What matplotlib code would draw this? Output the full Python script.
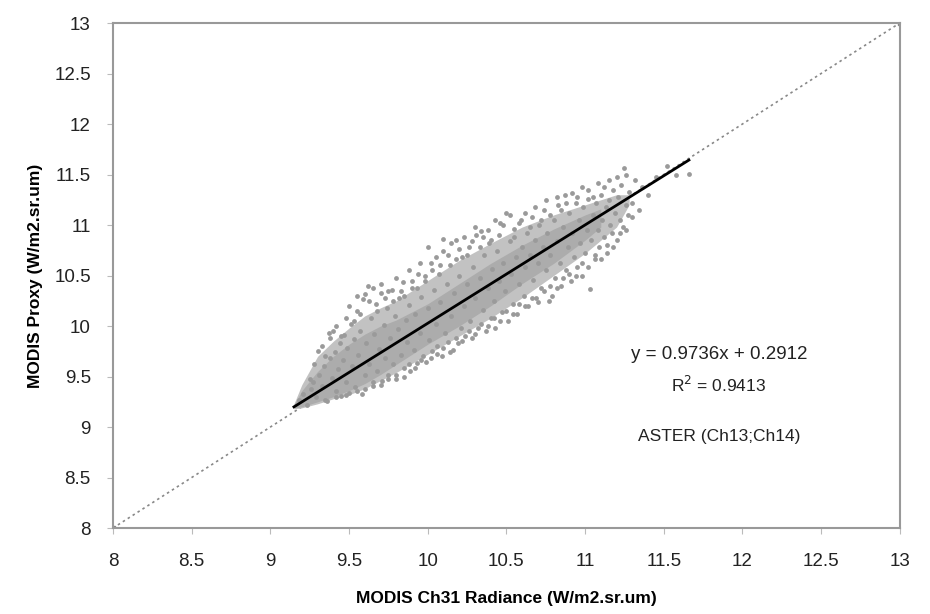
import matplotlib
matplotlib.use("Agg")
import numpy as np
import matplotlib.pyplot as plt

plt.rcParams["font.family"] = ["Liberation Sans", "DejaVu Sans"]

# scatter cloud
pts = [
    (9.18, 9.27), (9.21, 9.33), (9.23, 9.22), (9.26, 9.38), (9.27, 9.45), (9.29, 9.30), (9.31, 9.52),
    (9.33, 9.41), (9.34, 9.60), (9.36, 9.26), (9.37, 9.93), (9.38, 9.68), (9.39, 9.49), (9.41, 9.74),
    (9.42, 9.36), (9.43, 9.57), (9.44, 9.83), (9.45, 9.31), (9.46, 9.66), (9.47, 9.91), (9.48, 9.45),
    (9.49, 9.78), (9.50, 9.34), (9.51, 10.02), (9.52, 9.60), (9.53, 9.87), (9.54, 9.40), (9.55, 10.15),
    (9.56, 9.71), (9.57, 9.95), (9.58, 9.33), (9.59, 10.27), (9.60, 9.52), (9.61, 9.83), (9.62, 10.40),
    (9.63, 9.62), (9.64, 10.08), (9.65, 9.41), (9.66, 9.92), (9.67, 10.22), (9.68, 9.55), (9.69, 9.77),
    (9.70, 10.33), (9.71, 9.46), (9.72, 10.01), (9.73, 9.68), (9.74, 10.18), (9.75, 9.52), (9.76, 9.88),
    (9.77, 10.36), (9.78, 9.62), (9.79, 10.10), (9.80, 9.48), (9.81, 9.97), (9.82, 10.28), (9.83, 9.71),
    (9.84, 10.44), (9.85, 9.58), (9.86, 10.06), (9.87, 9.84), (9.88, 10.21), (9.89, 9.55), (9.90, 10.38),
    (9.91, 9.76), (9.92, 10.12), (9.93, 9.63), (9.94, 10.52), (9.95, 9.93), (9.96, 10.29), (9.97, 9.70),
    (9.98, 10.45), (9.99, 9.64), (10.00, 10.18), (10.01, 9.86), (10.02, 10.62), (10.03, 9.75), (10.04, 10.36),
    (10.05, 10.02), (10.06, 9.80), (10.07, 10.52), (10.08, 10.24), (10.09, 9.70), (10.10, 10.74), (10.11, 9.93),
    (10.12, 10.42), (10.13, 9.84), (10.14, 10.60), (10.15, 10.10), (10.16, 9.76), (10.17, 10.33), (10.18, 10.85),
    (10.19, 9.83), (10.20, 10.50), (10.21, 9.98), (10.22, 10.68), (10.23, 10.20), (10.24, 9.90), (10.25, 10.42),
    (10.26, 10.78), (10.27, 10.05), (10.28, 9.88), (10.29, 10.58), (10.30, 10.28), (10.31, 10.90), (10.32, 9.98),
    (10.33, 10.48), (10.34, 10.94), (10.35, 10.16), (10.36, 10.70), (10.37, 9.95), (10.38, 10.38), (10.39, 10.82),
    (10.40, 10.08), (10.41, 10.56), (10.42, 10.25), (10.43, 9.98), (10.44, 10.74), (10.45, 10.45), (10.46, 11.02),
    (10.47, 10.14), (10.48, 10.62), (10.49, 10.35), (10.50, 11.12), (10.51, 10.05), (10.52, 10.84), (10.53, 10.52),
    (10.54, 10.22), (10.55, 10.96), (10.56, 10.68), (10.57, 10.12), (10.58, 10.42), (10.59, 11.05), (10.60, 10.78),
    (10.61, 10.30), (10.62, 10.58), (10.63, 10.92), (10.64, 10.20), (10.65, 10.70), (10.66, 11.08), (10.67, 10.46),
    (10.68, 10.85), (10.69, 10.28), (10.70, 10.62), (10.71, 11.00), (10.72, 10.38), (10.73, 10.78), (10.74, 11.15),
    (10.75, 10.55), (10.76, 10.92), (10.77, 10.25), (10.78, 10.70), (10.79, 10.30), (10.80, 11.05), (10.81, 10.48),
    (10.82, 10.84), (10.83, 11.20), (10.84, 10.62), (10.85, 10.40), (10.86, 10.98), (10.87, 11.30), (10.88, 10.55),
    (10.89, 10.78), (10.90, 11.12), (10.91, 10.45), (10.92, 10.92), (10.93, 10.68), (10.94, 11.22), (10.95, 10.58),
    (10.96, 11.05), (10.97, 10.82), (10.98, 10.50), (10.99, 11.18), (11.00, 10.72), (11.01, 10.95), (11.02, 11.26),
    (11.03, 10.37), (11.04, 10.85), (11.05, 11.10), (11.06, 10.66), (11.07, 11.22), (11.08, 10.95), (11.09, 10.78),
    (11.10, 11.30), (11.11, 11.05), (11.12, 10.88), (11.13, 11.18), (11.14, 10.72), (11.15, 11.25), (11.16, 11.00),
    (11.17, 10.92), (11.18, 11.35), (11.19, 11.12), (11.20, 10.85), (11.21, 11.28), (11.22, 11.05), (11.23, 11.40),
    (11.24, 10.98), (11.25, 11.56), (11.26, 11.20), (11.27, 11.10), (11.28, 11.33), (11.30, 11.22), (11.32, 11.45),
    (11.34, 11.15), (11.36, 11.38), (11.40, 11.30), (11.45, 11.48), (11.52, 11.58), (11.58, 11.50), (11.66, 11.51),
    # upper edge of the cloud
    (9.25, 9.48), (9.28, 9.62), (9.30, 9.75), (9.33, 9.80), (9.35, 9.70), (9.38, 9.88), (9.40, 9.95),
    (9.42, 10.00), (9.45, 9.90), (9.48, 10.08), (9.50, 10.20), (9.53, 10.05), (9.55, 10.30), (9.57, 10.12),
    (9.60, 10.32), (9.63, 10.25), (9.65, 10.38), (9.68, 10.15), (9.70, 10.42), (9.73, 10.28), (9.75, 10.35),
    (9.78, 10.25), (9.80, 10.48), (9.83, 10.35), (9.85, 10.30), (9.88, 10.55), (9.90, 10.45), (9.93, 10.38),
    (9.95, 10.62), (9.98, 10.50), (10.00, 10.78), (10.03, 10.55), (10.05, 10.68), (10.08, 10.60), (10.10, 10.86),
    (10.13, 10.70), (10.15, 10.82), (10.18, 10.66), (10.20, 10.76), (10.23, 10.88), (10.25, 10.70), (10.28, 10.84),
    (10.30, 10.98), (10.33, 10.78), (10.35, 10.88), (10.38, 10.95), (10.40, 10.85), (10.43, 11.05), (10.45, 10.90),
    (10.48, 11.00), (10.52, 11.10), (10.55, 10.88), (10.58, 11.02), (10.62, 11.12), (10.65, 10.98), (10.68, 11.18),
    (10.72, 11.05), (10.75, 11.25), (10.78, 11.10), (10.82, 11.28), (10.85, 11.15), (10.88, 11.22), (10.92, 11.32),
    (10.95, 11.28), (10.98, 11.38), (11.02, 11.35), (11.05, 11.28), (11.08, 11.42), (11.12, 11.38), (11.15, 11.45),
    (11.20, 11.48), (11.26, 11.50),
    # lower edge of the cloud
    (9.35, 9.27), (9.42, 9.30), (9.48, 9.32), (9.55, 9.36), (9.60, 9.38), (9.65, 9.45), (9.70, 9.42),
    (9.75, 9.48), (9.80, 9.52), (9.85, 9.50), (9.88, 9.62), (9.92, 9.58), (9.96, 9.66), (10.02, 9.68),
    (10.06, 9.72), (10.10, 9.78), (10.14, 9.74), (10.18, 9.88), (10.22, 9.85), (10.26, 9.95), (10.30, 9.92),
    (10.34, 10.02), (10.38, 10.00), (10.42, 10.08), (10.46, 10.05), (10.50, 10.15), (10.54, 10.12), (10.58, 10.22),
    (10.62, 10.20), (10.66, 10.28), (10.70, 10.24), (10.74, 10.35), (10.78, 10.40), (10.82, 10.38), (10.86, 10.48),
    (10.90, 10.52), (10.94, 10.50), (10.98, 10.62), (11.02, 10.58), (11.06, 10.70), (11.10, 10.66), (11.14, 10.80),
    (11.18, 10.78), (11.22, 10.92), (11.26, 10.95), (11.30, 11.08),
]

# envelopes of the cloud: outer = speckled, inner = dense
outer_x = [9.15, 9.2, 9.3, 9.4, 9.5, 9.6, 9.7, 9.8, 9.9, 10.0, 10.2, 10.4, 10.6, 10.8, 11.0, 11.2, 11.28]
outer_lo = [9.18, 9.19, 9.23, 9.28, 9.32, 9.38, 9.46, 9.54, 9.63, 9.72, 9.90, 10.08, 10.28, 10.50, 10.72, 10.98, 11.20]
outer_hi = [9.23, 9.42, 9.70, 9.85, 9.98, 10.10, 10.18, 10.25, 10.35, 10.45, 10.65, 10.82, 10.98, 11.10, 11.20, 11.30, 11.30]
inner_x = [9.15, 9.2, 9.3, 9.4, 9.5, 9.6, 9.7, 9.8, 9.9, 10.0, 10.2, 10.4, 10.6, 10.8, 11.0, 11.1]
inner_lo = [9.19, 9.20, 9.25, 9.30, 9.36, 9.43, 9.52, 9.62, 9.72, 9.82, 10.00, 10.20, 10.42, 10.62, 10.85, 10.98]
inner_hi = [9.22, 9.36, 9.55, 9.70, 9.82, 9.92, 10.00, 10.06, 10.14, 10.22, 10.42, 10.62, 10.80, 10.96, 11.10, 11.16]

slope, intercept = 0.9736, 0.2912
fit_x = [9.15, 11.66]
one_x = [8, 13]

xs = [p[0] for p in pts]
ys = [p[1] for p in pts]

fig = plt.figure(figsize=(9.3, 6.14), dpi=100)
ax = fig.add_axes([0.1215, 0.14, 0.846, 0.8225])

ax.plot(one_x, one_x, color="#888888", lw=1.2, ls=(0, (1.5, 2)), marker="s", ms=3,
        markerfacecolor="#888888", markeredgecolor="#888888", zorder=1)
ax.fill_between(outer_x, outer_lo, outer_hi, color="#c2c2c2", lw=0, zorder=2)
ax.fill_between(inner_x, inner_lo, inner_hi, color="#acacac", lw=0, zorder=2)
ax.scatter(xs, ys, s=12, color="#9a9a9a", lw=0, zorder=3)
ax.plot(fit_x, [slope * v + intercept for v in fit_x], color="black", lw=2, zorder=4)

ax.text(11.85, 9.72, "y = 0.9736x + 0.2912", ha="center", va="center", fontsize=13.5, color="#222222")
ax.text(11.85, 9.42, "R$^2$ = 0.9413", ha="center", va="center", fontsize=12.5, color="#222222")
ax.text(11.85, 8.91, "ASTER (Ch13;Ch14)", ha="center", va="center", fontsize=12.5, color="#222222")

ax.set_xlim(8, 13)
ax.set_ylim(8, 13)
ax.set_xticks(np.arange(8, 13.01, 0.5))
ax.set_yticks(np.arange(8, 13.01, 0.5))
ax.set_xticklabels(["8", "8.5", "9", "9.5", "10", "10.5", "11", "11.5", "12", "12.5", "13"])
ax.set_yticklabels(["8", "8.5", "9", "9.5", "10", "10.5", "11", "11.5", "12", "12.5", "13"])
ax.tick_params(direction="out", length=4, color="#bbbbbb", labelsize=13.5, labelcolor="#222222")
ax.tick_params(axis="x", pad=14)
ax.tick_params(axis="y", pad=12)
for s in ax.spines.values():
    s.set_color("#999999")
    s.set_linewidth(1.5)

ax.set_xlabel("MODIS Ch31 Radiance (W/m2.sr.um)", fontsize=12.5, fontweight="bold", labelpad=15)
ax.set_ylabel("MODIS Proxy (W/m2.sr.um)", fontsize=12.5, fontweight="bold", labelpad=8)

fig.savefig("out.png", dpi=100)
